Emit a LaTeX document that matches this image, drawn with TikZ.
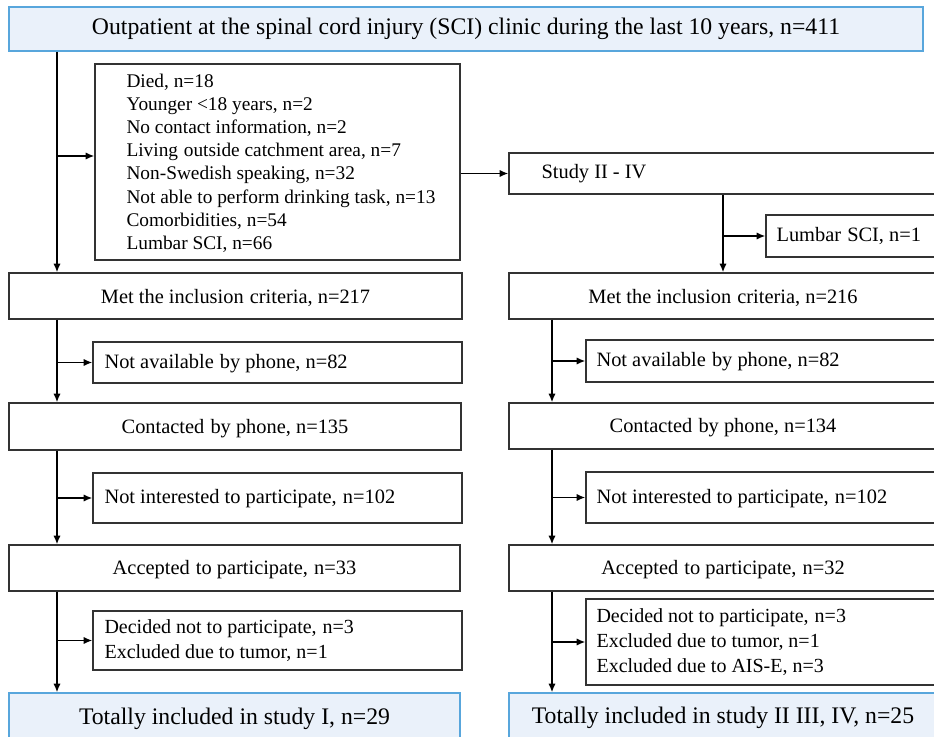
\documentclass[tikz,border=0pt]{standalone}
\usepackage{fontspec}
\setmainfont{Liberation Serif}
\usetikzlibrary{fit,arrows.meta,calc}

\definecolor{boxline}{HTML}{333333}
\definecolor{hlfill}{HTML}{EAF1FA}
\definecolor{hlline}{HTML}{58A6DC}

% wider word gap as used in the flow chart labels
\newcommand{\xgap}{\hspace{0.3em}}

\tikzset{
  box/.style={draw=boxline, line width=1.1pt, inner sep=0pt},
  hlbox/.style={draw=hlline, fill=hlfill, line width=1.1pt, inner sep=0pt},
  mtext/.style={inner sep=0pt, font=\fontsize{15.3pt}{18pt}\selectfont},
  ltext/.style={inner sep=0pt, anchor=west, align=left},
  bigtext/.style={inner sep=0pt, font=\fontsize{17.8pt}{21pt}\selectfont},
  arr/.style={draw=black, line width=1.1pt, -{Latex[length=6.5pt,width=5.5pt]}},
}

\begin{document}
\begin{tikzpicture}[x=0.75pt, y=-0.75pt]
\useasboundingbox (0,0) rectangle (934,737);
\clip (0,0) rectangle (934,737);

% ---- header -------------------------------------------------------------
\node[hlbox, fit={(9,7) (923,51)}] (top) {};
\node[bigtext] (topt) at (top.center) {Outpatient at the spinal cord injury (SCI) clinic during the last 10 years, n=411};

% ---- first exclusion list ----------------------------------------------
\node[box, fit={(95,64) (460,260)}] (ex) {};
\node[ltext, font=\fontsize{14.5pt}{17.4pt}\selectfont] (ext) at ($(ex.west)+(32,1)$) {Died, n=18\\
Younger <18 years, n=2\\
No contact information, n=2\\
Living\xgap outside catchment area, n=7\\
Non-Swedish speaking, n=32\\
Not able to perform drinking task, n=13\\
Comorbidities, n=54\\
Lumbar SCI, n=66};

% ---- study II-IV branch head -------------------------------------------
\node[box, fit={(509,153) (940,194)}] (st) {};
\node[ltext, mtext, anchor=west] (stt) at ($(st.west)+(33,0)$) {Study II - IV};
\node[box, fit={(766,215) (940,257)}] (lum) {};
\node[ltext, mtext, anchor=west] (lumt) at ($(lum.west)+(11,0)$) {Lumbar\xgap SCI, n=1};

% ---- left column (study I) -----------------------------------------------
\node[box, fit={(9,273) (462,319)}] (metA) {};
\node[mtext] (metAt) at ($(metA.center)+(0,2)$) {Met the inclusion\xgap criteria, n=217};
\node[box, fit={(93,342) (462,383)}] (naA) {};
\node[ltext, mtext, anchor=west] (naAt) at ($(naA.west)+(12,1)$) {Not available\xgap by phone, n=82};
\node[box, fit={(9,403) (461,450)}] (coA) {};
\node[mtext] (coAt) at ($(coA.center)+(0,2)$) {Contacted\xgap by phone, n=135};
\node[box, fit={(93,473) (462,523)}] (niA) {};
\node[ltext, mtext, anchor=west] (niAt) at ($(niA.west)+(12,1)$) {Not interested to participate,\xgap n=102};
\node[box, fit={(9,545) (460,591)}] (acA) {};
\node[mtext] (acAt) at ($(acA.center)+(0,2)$) {Accepted\xgap to participate,\xgap n=33};
\node[box, fit={(93,611) (462,670)}] (deA) {};
\node[ltext, font=\fontsize{15pt}{18.8pt}\selectfont] (deAt) at ($(deA.west)+(12,0)$) {Decided not to participate,\xgap n=3\\
Excluded due to tumor, n=1};
\node[hlbox, fit={(9,693) (460,745)}] (toA) {};
\node[bigtext] (toAt) at (toA.center) {Totally included in study I, n=29};

% ---- right column (study II-IV) ------------------------------------------
\node[box, fit={(509,273) (940,319)}] (metB) {};
\node[mtext] (metBt) at (723,298) {Met the inclusion\xgap criteria, n=216};
\node[box, fit={(586,340) (940,382)}] (naB) {};
\node[ltext, mtext, anchor=west] (naBt) at ($(naB.west)+(11,1)$) {Not available\xgap by phone, n=82};
\node[box, fit={(509,403) (940,449)}] (coB) {};
\node[mtext] (coBt) at (723,428) {Contacted\xgap by phone, n=134};
\node[box, fit={(586,472) (940,523)}] (niB) {};
\node[ltext, mtext, anchor=west] (niBt) at ($(niB.west)+(11,1)$) {Not interested to participate,\xgap n=102};
\node[box, fit={(509,545) (940,591)}] (acB) {};
\node[mtext] (acBt) at (723,570) {Accepted\xgap to participate,\xgap n=32};
\node[box, fit={(586,599) (940,685)}] (deB) {};
\node[ltext, font=\fontsize{15pt}{18.8pt}\selectfont] (deBt) at ($(deB.west)+(11,0)$) {Decided not to participate,\xgap n=3\\
Excluded due to tumor, n=1\\
Excluded due to AIS-E, n=3};
\node[hlbox, fit={(509,693) (940,745)}] (toB) {};
\node[bigtext] (toBt) at (723,718) {Totally included in study II III, IV, n=25};

% ---- trunk lines ---------------------------------------------------------
\coordinate (vL) at (57,0);
\coordinate (vR) at (552,0);
\coordinate (vS) at (723,0);
\coordinate (exIn) at (57,156);

\draw[arr] (top.south -| vL) -- (metA.north -| vL);
\draw[arr] (exIn) -- (exIn -| ex.west);
\draw[arr] (ex.east |- st.west) -- (st.west);
\draw[arr] (st.south -| vS) -- (metB.north -| vS);
\draw[arr] (lum.west -| vS) -- (lum.west);

\draw[arr] (metA.south -| vL) -- (coA.north -| vL);
\draw[arr] (naA.west -| vL) -- (naA.west);
\draw[arr] (coA.south -| vL) -- (acA.north -| vL);
\draw[arr] (niA.west -| vL) -- (niA.west);
\draw[arr] (acA.south -| vL) -- (toA.north -| vL);
\draw[arr] (deA.west -| vL) -- (deA.west);

\draw[arr] (metB.south -| vR) -- (coB.north -| vR);
\draw[arr] (naB.west -| vR) -- (naB.west);
\draw[arr] (coB.south -| vR) -- (acB.north -| vR);
\draw[arr] (niB.west -| vR) -- (niB.west);
\draw[arr] (acB.south -| vR) -- (toB.north -| vR);
\draw[arr] (deB.west -| vR) -- (deB.west);
\end{tikzpicture}
\end{document}
